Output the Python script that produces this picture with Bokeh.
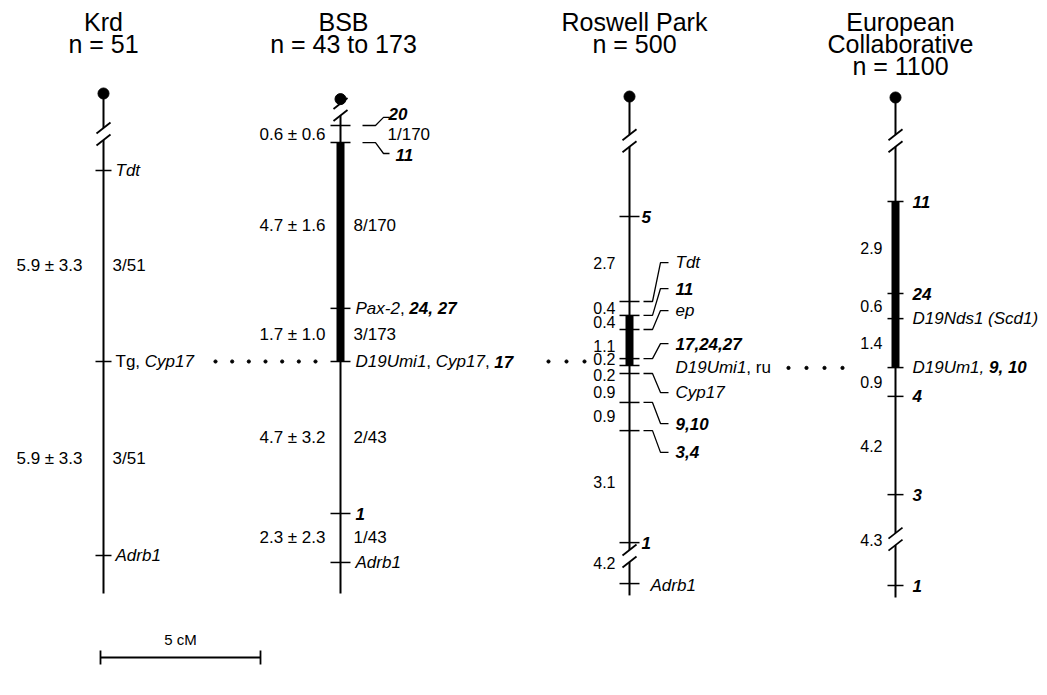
from bokeh.plotting import figure
from bokeh.models import Range1d
from bokeh.embed import file_html
from bokeh.resources import INLINE
from bokeh.core.properties import value

# ---------------- data (map positions in cM, relative to the aligned D19Umi1 locus) ----------------
titles = [["Krd", "n = 51"],
          ["BSB", "n = 43 to 173"],
          ["Roswell Park", "n = 500"],
          ["European", "Collaborative", "n = 1100"]]

# Krd
krd_pos = [-5.97, 0.0, 6.06]
krd_labels = [[("Tdt", "i")], [("Tg, ", "r"), ("Cyp17", "i")], [("Adrb1", "i")]]
krd_dist = ["5.9 ± 3.3", "5.9 ± 3.3"]
krd_ratio = ["3/51", "3/51"]

# BSB
bsb_pos = [-7.375, -6.84, -1.66, 0.0, 4.75, 6.28]
bsb_labels = [[("20", "b")], [("11", "b")],
              [("Pax-2", "i"), (", ", "r"), ("24, 27", "b")],
              [("D19Umi1", "i"), (", ", "r"), ("Cyp17", "i"), (", ", "r"), ("17", "b")],
              [("1", "b")], [("Adrb1", "i")]]
bsb_leader_label_pos = [-7.75, -6.44]          # labels "20" and "11"
bsb_dist = ["0.6 ± 0.6", "4.7 ± 1.6", "1.7 ± 1.0", "4.7 ± 3.2", "2.3 ± 2.3"]
bsb_ratio = ["1/170", "8/170", "3/173", "2/43", "1/43"]

# Roswell Park
rp_pos = [-4.53, -1.875, -1.44, -1.0, -0.09, 0.125, 0.375, 1.28, 2.16, 5.66, 6.94]
rp_labels = [[("5", "b")], [("Tdt", "i")], [("11", "b")], [("ep", "i")],
             [("17,24,27", "b")], [("D19Umi1", "i"), (", ru", "r")], [("Cyp17", "i")],
             [("9,10", "b")], [("3,4", "b")], [("1", "b")], [("Adrb1", "i")]]
rp_label_pos = [-4.53, -3.09, -2.28, -1.59, -0.56, 0.19, 0.97, 1.94, 2.84, 5.66, 7.0]
rp_dist = ["2.7", "0.4", "0.4", "1.1", "0.2", "0.2", "0.9", "0.9", "3.1", "4.2"]
rp_dist_pos = [-3.09, -1.66, -1.22, -0.47, -0.09, 0.41, 0.94, 1.69, 3.78, 6.31]

# European Collaborative
ec_pos = [-5.0, -2.125, -1.34, 0.19, 1.09, 4.16, 7.0]
ec_labels = [[("11", "b")], [("24", "b")], [("D19Nds1 (Scd1)", "i")],
             [("D19Um1, ", "i"), ("9, 10", "b")], [("4", "b")], [("3", "b")], [("1", "b")]]
ec_dist = ["2.9", "0.6", "1.4", "0.9", "4.2", "4.3"]

scale_cm = 5

# ---------------- layout ----------------
PX_PER_CM = 32.0
W, H = 1040, 690
ANCHOR = 361.0  # page row of the aligned locus
Y_TOP = (0 - ANCHOR) / PX_PER_CM
Y_BOT = (H - ANCHOR) / PX_PER_CM
COL_X = [103, 340, 629, 895]
FONT = "Liberation Sans"

p = figure(width=W, height=H, output_backend="svg", toolbar_location=None,
           x_range=Range1d(0, W), y_range=Range1d(Y_BOT, Y_TOP),
           min_border=0, title=None)
p.axis.visible = False
p.grid.visible = False
p.outline_line_color = None
p.background_fill_color = "white"
p.border_fill_color = "white"

# Arial / Liberation Sans advance widths (per 1000 em)
AW = {' ': 278, ',': 278, '-': 333, '.': 278, '/': 278, '(': 333, ')': 333, '=': 584, '±': 549,
      'A': 667, 'B': 667, 'C': 722, 'D': 722, 'E': 667, 'K': 667, 'N': 722, 'P': 667, 'R': 722,
      'S': 667, 'T': 611, 'U': 722,
      'a': 556, 'b': 556, 'c': 500, 'd': 556, 'e': 556, 'g': 556, 'i': 222, 'k': 500, 'l': 222,
      'm': 833, 'n': 556, 'o': 556, 'p': 556, 'r': 333, 's': 500, 't': 278, 'u': 556, 'v': 500,
      'w': 722, 'x': 500, 'y': 500}


def tw(s, size):
    return sum(AW.get(c, 556) for c in s) * size / 1000.0


STYLE = {"r": "normal", "i": "italic", "b": "bold italic"}


def label(x, y, segs, size=17, align="left"):
    total = sum(tw(t, size) for t, _ in segs)
    off = 0 if align == "left" else -total
    for t, st in segs:
        p.text(x=[x + off], y=[y], text=[t], text_font=value(FONT), text_font_size=f"{size}px",
               text_font_style=STYLE[st], text_baseline="middle", text_align="left",
               text_color="black")
        off += tw(t, size)


def plain(xs, ys, texts, size=17, align="left", style="normal"):
    p.text(x=xs, y=ys, text=texts, text_font=value(FONT), text_font_size=f"{size}px",
           text_font_style=style, text_baseline="middle", text_align=align, text_color="black")


def seg(x0, y0, x1, y1, w=1.5):
    p.segment(x0=x0, y0=y0, x1=x1, y1=y1, line_color="black", line_width=w)


def chromosome(x, top, brk, bottom, ticks, hw=8, lw=2.0, brk2=None):
    gap = 6 / PX_PER_CM
    d = 5.5 / PX_PER_CM
    # centromere
    p.scatter([x], [top], size=11, color="black")
    pieces = [(top, brk - gap)]
    if brk2 is None:
        pieces.append((brk + gap, bottom))
    else:
        pieces.append((brk + gap, brk2 - gap))
        pieces.append((brk2 + gap, bottom))
    for a, b in pieces:
        seg([x], [a], [x], [b], lw)
    for b in [brk] + ([brk2] if brk2 is not None else []):
        for c in (b - gap, b + gap):
            seg([x - 7], [c + d], [x + 7], [c - d], 1.8)
    seg([x - hw] * len(ticks), ticks, [x + hw] * len(ticks), ticks, 1.5)


# ---------------- titles ----------------
title_rows = [-10.62, -9.92, -9.24]
for cx, lines in zip([103, 343, 634, 900], titles):
    plain([cx] * len(lines), title_rows[:len(lines)], lines, size=25, align="center")

# ---------------- Krd ----------------
x = COL_X[0]
chromosome(x, -8.375, -7.11, 7.25, krd_pos)
for y, segs in zip(krd_pos, krd_labels):
    label(x + 12, y, segs)
mids = [(a + b) / 2 for a, b in zip(krd_pos[:-1], krd_pos[1:])]
plain([x - 21] * 2, mids, krd_dist, align="right")
plain([x + 9] * 2, mids, krd_ratio)

# ---------------- BSB ----------------
x = COL_X[1]
chromosome(x, -8.2, -7.875, 7.25, bsb_pos, hw=10)
seg([x], [bsb_pos[1]], [x], [bsb_pos[3]], 8)
for i, (y, segs) in enumerate(zip(bsb_pos, bsb_labels)):
    if i < 2:
        ly = bsb_leader_label_pos[i]
        elbow = ly + (0.12 if i == 0 else -0.06)
        p.line([x + 22, x + 35, x + 43, x + 49], [y, y, elbow, elbow],
               line_color="black", line_width=1.3)
        label(x + (48 if i == 0 else 55), ly, segs)
    else:
        label(x + 15, y, segs)
mids = [(a + b) / 2 for a, b in zip(bsb_pos[:-1], bsb_pos[1:])]
plain([x - 15] * 5, mids, bsb_dist, align="right")
plain([x + 47] + [x + 13] * 4, mids, bsb_ratio)

# ---------------- Roswell Park ----------------
x = COL_X[2]
chromosome(x, -8.28, -6.9, 7.31, rp_pos, hw=10, brk2=6.08)
seg([x], [rp_pos[2]], [x], [rp_pos[5]], 8)
for i, (y, ly, segs) in enumerate(zip(rp_pos, rp_label_pos, rp_labels)):
    if i in (0, 9):
        label(x + 12, y, segs)
    elif i == 10:
        label(x + 21, ly, segs)
    elif i == 5:
        label(x + 46, ly, segs)
    else:
        p.line([x + 14, x + 23, x + 31, x + 39], [y, y, ly, ly], line_color="black", line_width=1.3)
        label(x + 46, ly, segs)
plain([x - 14] * len(rp_dist), rp_dist_pos, rp_dist, size=16, align="right")

# ---------------- European Collaborative ----------------
x = COL_X[3]
chromosome(x, -8.25, -6.9, 7.375, ec_pos, hw=8, brk2=5.55)
seg([x], [ec_pos[0]], [x], [ec_pos[3]], 8)
for y, segs in zip(ec_pos, ec_labels):
    label(x + 17, y, segs)
mids = [(a + b) / 2 for a, b in zip(ec_pos[:-1], ec_pos[1:])]
plain([x - 13] * len(ec_dist), mids, ec_dist, size=16, align="right")

# ---------------- dotted connectors ----------------
rows = [(215, 315, 7, 0.0), (548, 584, 3, 0.0), (788, 842, 4, 0.2)]
dx, dy = [], []
for a, b, n, y in rows:
    for k in range(n):
        dx.append(a + (b - a) * k / (n - 1))
        dy.append(y)
p.scatter(dx, dy, size=3.2, color="black")

# ---------------- scale bar ----------------
sb_y = (657 - ANCHOR) / PX_PER_CM
x0 = 100
x1 = x0 + scale_cm * PX_PER_CM
seg([x0], [sb_y], [x1], [sb_y], 1.8)
tick = 7 / PX_PER_CM
seg([x0, x1], [sb_y - tick] * 2, [x0, x1], [sb_y + tick] * 2, 1.8)
plain([(x0 + x1) / 2], [sb_y - 0.55], [f"{scale_cm} cM"], size=15, align="center")

open("out.html", "w").write(file_html(p, INLINE))
